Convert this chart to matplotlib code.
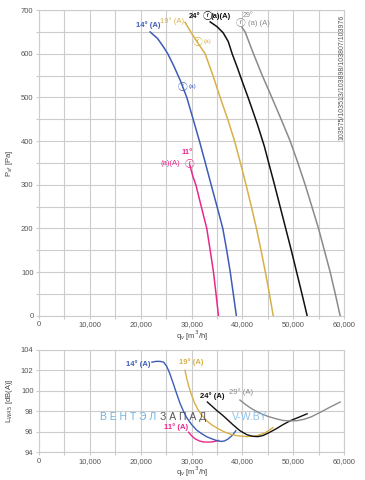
import numpy as np
import matplotlib
matplotlib.use('Agg')
import matplotlib.pyplot as plt
from matplotlib.ticker import FuncFormatter, MultipleLocator

plt.rcParams['font.family'] = ['Liberation Sans', 'Noto Sans CJK JP', 'DejaVu Sans']

# pressure curves  q_v [m3/h] / p_sf [Pa]
q11 = [29650, 30230, 30830, 31900, 32980, 33650, 34300, 34800, 35280]
p11 = [345, 320, 300, 250, 200, 150, 100, 50, 0]
q14 = [21840, 23300, 24500, 25310, 26500, 27800, 29050, 30300, 31540, 32700,
       33840, 35000, 36130, 36900, 37600, 38200, 38800]
p14 = [650, 635, 615, 600, 572, 538, 500, 450, 400, 350,
       300, 250, 200, 150, 100, 50, 0]
q19 = [28700, 29830, 31200, 32660, 34200, 35610, 37100, 38450, 39600, 40700,
       41750, 42750, 43650, 44500, 45300, 46050]
p19 = [672, 650, 625, 600, 550, 500, 450, 400, 350, 300,
       250, 200, 150, 100, 50, 0]
q24 = [33640, 35000, 36200, 37200, 37970, 39000, 40000, 41100, 42000, 43000,
       43600, 44300, 45250, 46300, 47400, 48500, 49600, 50650, 51700, 52720]
p24 = [673, 662, 648, 628, 600, 568, 535, 500, 470, 436,
       414, 388, 346, 300, 250, 200, 150, 100, 50, 0]
q29 = [39930, 40520, 42160, 43900, 45770, 47600, 49380, 50900, 52330, 53650,
       54950, 56100, 57250, 58250, 59210]
p29 = [660, 650, 600, 550, 500, 450, 400, 350, 300, 250,
       200, 150, 100, 50, 0]

# sound power curves  q_v / L_WA [dB(A)]
lq11 = [29400, 30000, 30700, 31500, 32300, 33200, 34000, 34800, 35300]
lw11 = [95.95, 95.6, 95.3, 95.1, 95.0, 94.98, 95.0, 95.08, 95.15]
lq14 = [22200, 23000, 23800, 24500, 25100, 25700, 26400, 27000, 27700, 28400, 29000,
        30000, 31000, 32000, 33000, 34000, 35000, 35800, 36500, 37200, 38000, 38700]
lw14 = [102.8, 102.88, 102.88, 102.8, 102.4, 101.7, 100.7, 99.8, 98.8, 98.0, 97.4,
        96.7, 96.15, 95.8, 95.5, 95.3, 95.12, 95.05, 95.1, 95.3, 95.65, 96.1]
lq19 = [28700, 29000, 29400, 29900, 30500, 31200, 32000, 33000, 34000,
        35200, 36500, 38000, 39500, 41000, 42800, 44500, 46000]
lw19 = [102.0, 101.3, 100.5, 99.7, 98.9, 98.2, 97.6, 97.05, 96.65,
        96.3, 95.97, 95.7, 95.57, 95.52, 95.6, 95.9, 96.4]
lq24 = [33100, 34000, 35000, 36000, 37000, 38200, 39500, 40900, 42000,
        43000, 44000, 45000, 46500, 48000, 49500, 51000, 52700]
lw24 = [98.9, 98.5, 98.05, 97.65, 97.2, 96.65, 96.1, 95.7, 95.55,
        95.52, 95.62, 95.85, 96.25, 96.7, 97.1, 97.4, 97.75]
lq29 = [39500, 40500, 41500, 42500, 43500, 45000, 46700, 48000,
        49400, 50700, 52000, 53500, 55300, 57200, 59200]
lw29 = [99.1, 98.7, 98.35, 98.05, 97.8, 97.5, 97.25, 97.1,
        97.05, 97.08, 97.2, 97.45, 97.9, 98.4, 98.9]

c11 = '#e8288a'
c14 = '#3d5cb8'
c19 = '#d8b048'
c24 = '#111111'
c29 = '#8a8a8a'

fmt = FuncFormatter(lambda v, p: '{:,.0f}'.format(v))

fig = plt.figure(figsize=(3.65, 4.8), dpi=100)
ax1 = fig.add_axes([0.107, 0.342, 0.836, 0.637])
ax2 = fig.add_axes([0.107, 0.058, 0.836, 0.213])

for ax in (ax1, ax2):
    ax.set_xlim(0, 60000)
    ax.xaxis.set_major_locator(MultipleLocator(10000))
    ax.xaxis.set_minor_locator(MultipleLocator(5000))
    ax.xaxis.set_major_formatter(fmt)
    ax.grid(True, which='both', color='#cccccc', lw=0.8)
    ax.set_axisbelow(True)
    for s in ax.spines.values():
        s.set_color('#cccccc')
        s.set_linewidth(0.8)
    ax.tick_params(which='both', labelsize=5.5, colors='#cccccc',
                   labelcolor='#555555', length=2, width=0.8, pad=2)
    ax.set_xlabel('q$_v$ [m$^3$/h]', fontsize=5.5, color='#444444', labelpad=0)

ax1.set_ylim(0, 700)
ax1.yaxis.set_major_locator(MultipleLocator(100))
ax1.yaxis.set_minor_locator(MultipleLocator(50))
ax1.set_ylabel('P$_{sf}$ [Pa]', fontsize=5.5, color='#444444', labelpad=4)

ax2.set_ylim(94, 104)
ax2.yaxis.set_major_locator(MultipleLocator(2))
ax2.set_ylabel('L$_{WA5}$ [dB(A)]', fontsize=5.5, color='#444444', labelpad=4)

# top curves
ax1.plot(q11, p11, color=c11, lw=1.1)
ax1.plot(q14, p14, color=c14, lw=1.1)
ax1.plot(q19, p19, color=c19, lw=1.1)
ax1.plot(q24, p24, color=c24, lw=1.1)
ax1.plot(q29, p29, color=c29, lw=1.1)

kw = dict(fontsize=5.5, ha='center', va='center')
ck = dict(fontsize=7, ha='center', va='center')
ax1.text(21440, 666, '14° (A)', color=c14, fontweight='bold', **kw)
ax1.text(26160, 674, '19° (A)', color=c19, **kw)
ax1.text(30490, 686, '24°', color=c24, fontweight='bold', **kw)
ax1.text(33050, 686, 'ⓡ', color=c24, **ck)
ax1.text(35800, 686, '(a)(A)', color=c24, fontweight='bold', **kw)
ax1.text(41100, 688, '29°', color=c29, fontsize=5, ha='center', va='center')
ax1.text(39540, 670, 'ⓡ', color=c29, **ck)
ax1.text(41000, 670, '(a) (A)', color=c29, fontsize=5.5, ha='left', va='center')
ax1.text(31080, 627, 'ⓡ', color=c19, **ck)
ax1.text(33050, 627, '(a)', color=c19, fontsize=4.5, ha='center', va='center')
ax1.text(28130, 524, 'ⓡ', color=c14, **ck)
ax1.text(30100, 524, '(a)', color=c14, fontsize=4.5, ha='center', va='center')
ax1.text(29110, 374, '11°', color=c11, fontweight='bold', **kw)
ax1.text(25770, 348, '(a)(A)', color=c11, **kw)
ax1.text(29500, 348, 'ⓡ', color=c11, **ck)

fig.text(0.937, 0.838, '103575/103513/103898/103807/103976', rotation=90,
         fontsize=5, color='#555555', ha='center', va='center')

# bottom curves
ax2.plot(lq11, lw11, color=c11, lw=1.0)
ax2.plot(lq14, lw14, color=c14, lw=1.0)
ax2.plot(lq19, lw19, color=c19, lw=1.0)
ax2.plot(lq24, lw24, color=c24, lw=1.0)
ax2.plot(lq29, lw29, color=c29, lw=1.0)

ax2.text(19480, 102.6, '14° (A)', color=c14, fontweight='bold', **kw)
ax2.text(29900, 102.8, '19° (A)', color=c19, fontweight='bold', **kw)
ax2.text(34030, 99.5, '24° (A)', color=c24, fontweight='bold', **kw)
ax2.text(39740, 99.9, '29° (A)', color=c29, **kw)
ax2.text(26950, 96.45, '11° (A)', color=c11, fontweight='bold', **kw)

# watermark
ax2.text(12000, 97.45, 'В Е Н Т Э Л', color='#6fb2e4', fontsize=7.5, ha='left', va='center')
ax2.text(23700, 97.45, 'З А П А Д', color='#555555', fontsize=7.5, ha='left', va='center')
ax2.text(37900, 97.45, 'V-W.BY', color='#8ec3ea', fontsize=7.5, ha='left', va='center')

fig.savefig('out.png', dpi=100)
